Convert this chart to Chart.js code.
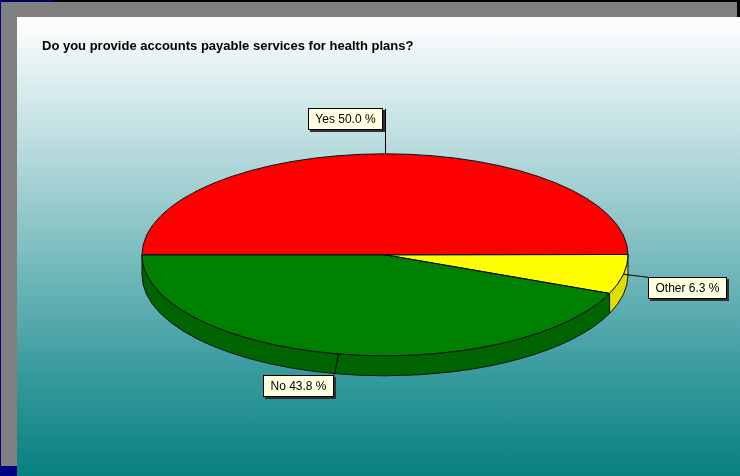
<!DOCTYPE html>
<html>
<head>
<meta charset="utf-8">
<script src="https://cdn.jsdelivr.net/npm/chart.js@4/dist/chart.umd.min.js"></script>
<style>
  html, body { margin: 0; padding: 0; }
  body { width: 740px; height: 476px; background: #000; position: relative; overflow: hidden; }
  #navyL { position: absolute; left: 0; top: 0; width: 1px; height: 476px; background: #000080; }
  #navyT { position: absolute; left: 0; top: 0; width: 52px; height: 3px; background: #000060; }
  #navyB { position: absolute; left: 0; top: 466px; width: 17px; height: 10px; background: #000080; }
  #panel { position: absolute; left: 1px; top: 2px; width: 736px; height: 464px; background: #808080; }
  #plot { position: absolute; left: 17px; top: 17px; width: 723px; height: 459px;
          background: linear-gradient(to bottom, #ffffff 0%, #c9e4e6 22%, #86c1c4 48%, #3d9ea1 75%, #078080 100%); }
  #wrap { position: absolute; left: 17px; top: 17px; width: 723px; height: 459px; }
</style>
</head>
<body>
<div id="navyL"></div>
<div id="navyT"></div>
<div id="panel"></div>
<div id="navyB"></div>
<div id="plot"></div>
<div id="wrap"><canvas id="c" width="723" height="459"></canvas></div>
<script>
// ---- data ----
const categories = ['Yes', 'Other', 'No'];
const percentValues = [50.0, 6.3, 43.8];
const sliceColors = ['#ff0000', '#ffff00', '#008000'];
const sideColors = ['#b00000', '#dede00', '#006400'];
const chartTitle = 'Do you provide accounts payable services for health plans?';

// ---- style constants ----
const RX = 243;          // horizontal radius in px
const Y_RATIO = 101 / 243; // ellipse flattening
const DEPTH = 20;        // 3D thickness
// label layout: offset of leader end from anchor, and which box corner the leader ends at
const labelLayout = {
  'Yes':   { dx: 0,  dy: -45, corner: 'tr' },
  'Other': { dx: 25, dy: 3,  corner: 'tl' },
  'No':    { dx: -4, dy: 21, corner: 'tr' }
};

function ellPt(cx, cy, a) {
  return [cx + RX * Math.cos(a), cy + RX * Y_RATIO * Math.sin(a)];
}

const pie3d = {
  id: 'pie3d',
  beforeDatasetsDraw(chart) {
    const ctx = chart.ctx;
    const arcs = chart.getDatasetMeta(0).data;
    const cx = arcs[0].x, cy = arcs[0].y;
    const ry = RX * Y_RATIO;
    arcs.forEach((arc, i) => {
      let s = Math.max(arc.startAngle, 0);
      let e = Math.min(arc.endAngle, Math.PI);
      if (s >= e) return;
      ctx.save();
      ctx.beginPath();
      ctx.ellipse(cx, cy, RX, ry, 0, s, e, false);
      ctx.ellipse(cx, cy + DEPTH, RX, ry, 0, e, s, true);
      ctx.closePath();
      ctx.fillStyle = sideColors[i];
      ctx.fill();
      ctx.lineWidth = 1;
      ctx.strokeStyle = '#101010';
      ctx.stroke();
      ctx.restore();
    });
    ctx.save();
    ctx.translate(cx, cy);
    ctx.scale(1, Y_RATIO);
    ctx.translate(-cx, -cy);
  },
  afterDatasetsDraw(chart) {
    const ctx = chart.ctx;
    ctx.restore();
    const arcs = chart.getDatasetMeta(0).data;
    const cx = arcs[0].x, cy = arcs[0].y;
    const ry = RX * Y_RATIO;
    ctx.save();
    ctx.lineWidth = 1;
    ctx.strokeStyle = '#101010';
    arcs.forEach(arc => {
      ctx.beginPath();
      ctx.moveTo(cx, cy);
      ctx.ellipse(cx, cy, RX, ry, 0, arc.startAngle, arc.endAngle, false);
      ctx.closePath();
      ctx.stroke();
    });
    ctx.restore();
    ctx.save();
    ctx.font = '12px "Liberation Sans", Arial, sans-serif';
    ctx.textBaseline = 'middle';
    const labels = chart.data.labels;
    const vals = chart.data.datasets[0].data;
    arcs.forEach((arc, i) => {
      const mid = (arc.startAngle + arc.endAngle) / 2;
      const [ax, ay] = ellPt(cx, cy, mid);
      const lay = labelLayout[labels[i]];
      const ex = ax + lay.dx, ey = ay + lay.dy;
      const text = labels[i] + ' ' + vals[i].toFixed(1) + ' %';
      const w = Math.round(ctx.measureText(text).width) + 15;
      const h = 22;
      let bx, by;
      if (lay.corner === 'tr') { bx = ex - w; by = ey; }
      else { bx = ex; by = ey; }
      if (labels[i] === 'Yes') { by = ey - 1; bx = ex - w - 2; }
      ctx.beginPath();
      ctx.strokeStyle = '#000';
      ctx.lineWidth = 1;
      ctx.moveTo(Math.round(ax) + 0.5, ay);
      ctx.lineTo(Math.round(ex) + 0.5, ey);
      ctx.stroke();
      bx = Math.round(bx); by = Math.round(by);
      ctx.fillStyle = '#303030';
      ctx.fillRect(bx + 2, by + 2, w, h);
      ctx.fillStyle = '#ffffe1';
      ctx.fillRect(bx, by, w, h);
      ctx.strokeStyle = '#000';
      ctx.strokeRect(bx + 0.5, by + 0.5, w - 1, h - 1);
      ctx.fillStyle = '#000';
      ctx.textAlign = 'center';
      ctx.fillText(text, bx + w / 2, by + h / 2 + 1);
    });
    ctx.restore();
  }
};

new Chart(document.getElementById('c'), {
  type: 'pie',
  data: {
    labels: categories,
    datasets: [{
      data: percentValues,
      backgroundColor: sliceColors,
      borderWidth: 0,
      radius: RX,
      clip: false
    }]
  },
  options: {
    responsive: false,
    animation: false,
    events: [],
    rotation: -90,
    layout: { padding: { left: 25, right: 12, top: 0, bottom: 21 } },
    plugins: {
      legend: { display: false },
      tooltip: { enabled: false },
      title: {
        display: true,
        text: chartTitle,
        align: 'start',
        color: '#000',
        font: { family: '"Liberation Sans", Arial, sans-serif', size: 13, weight: 'bold' },
        padding: { top: 22, bottom: 0 }
      }
    }
  },
  plugins: [pie3d]
});
</script>
</body>
</html>
